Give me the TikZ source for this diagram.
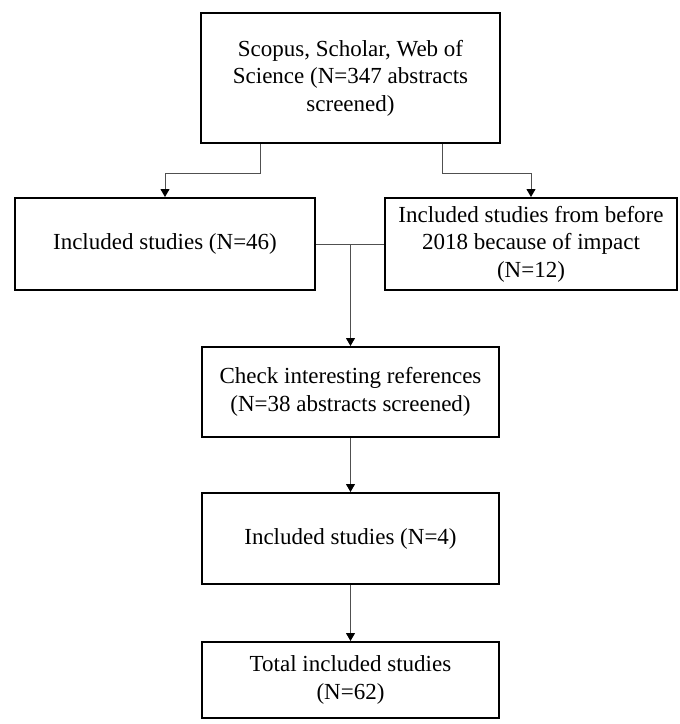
\documentclass[tikz,border=0pt]{standalone}
\usepackage{fontspec}
\setmainfont{Liberation Serif}
\usepackage{tikz}
\usetikzlibrary{positioning,arrows.meta,calc}
\definecolor{cLine}{RGB}{80,80,80}

\begin{document}
\begin{tikzpicture}[x=0.5pt,y=-0.5pt,
    box/.style={draw=black,line width=1pt,align=center,inner sep=2pt,
      font=\fontsize{11.5}{13.75}\selectfont},
    conn/.style={draw=cLine,line width=0.5pt,-{Triangle[length=4pt,width=4.5pt,color=black]}}]
  \useasboundingbox (0,0) rectangle (680,724);
  % boxes
  \node[box,minimum width=149.5pt,minimum height=65pt] (search) at (350.5,78)
     {Scopus, Scholar, Web of\\Science (N=347 abstracts\\screened)};
  \node[box,minimum width=150pt,minimum height=46pt] (incl) at (165,244)
     {Included studies (N=46)};
  \node[box,minimum width=146pt,minimum height=46pt] (old) at (531,244)
     {Included studies from before\\2018 because of impact\\(N=12)};
  \node[box,minimum width=148.5pt,minimum height=45pt] (refs) at (350.5,392)
     {Check interesting references\\(N=38 abstracts screened)};
  \node[box,minimum width=148.5pt,minimum height=45.5pt] (inclref) at (350.5,538.5)
     {Included studies (N=4)};
  \node[box,minimum width=148.5pt,minimum height=38pt] (total) at (350.5,680)
     {Total included studies\\(N=62)};
  % connectors
  \draw[conn] ([xshift=-45.25pt]search.south) -- ++(0,29) -| (incl.north);
  \draw[conn] ([xshift=45.75pt]search.south) -- ++(0,29) -| (old.north);
  \draw[cLine,line width=0.5pt] (incl.east) -- (old.west);
  \coordinate (merge) at (incl.east -| refs.north);
  \draw[conn] (merge) -- (refs.north);
  \draw[conn] (refs.south) -- (inclref.north);
  \draw[conn] (inclref.south) -- (total.north);
\end{tikzpicture}
\end{document}
